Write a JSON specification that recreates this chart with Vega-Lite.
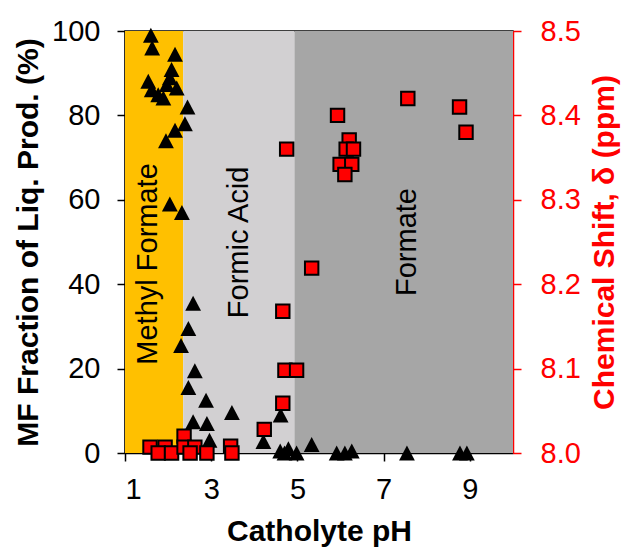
{
  "$schema": "https://vega.github.io/schema/vega-lite/v6.json",
  "width": 388,
  "height": 422,
  "autosize": "none",
  "padding": {"left": 125, "top": 31, "right": 113, "bottom": 94},
  "background": "white",
  "config": {
    "font": "Liberation Sans",
    "view": {"stroke": "black", "strokeWidth": 1.5},
    "axis": {
      "grid": false,
      "domainColor": "black",
      "domainWidth": 1.5,
      "tickColor": "black",
      "tickWidth": 1.5,
      "tickSize": 8,
      "labelColor": "black",
      "labelFont": "Liberation Sans",
      "labelFontSize": 29,
      "labelFontWeight": "normal",
      "titleFont": "Liberation Sans",
      "titleFontSize": 30,
      "titleFontWeight": "bold",
      "titleColor": "black"
    }
  },
  "datasets": {
    "regions": [
      {"start": 1, "end": 2.35, "region": "Methyl Formate"},
      {"start": 2.35, "end": 4.93, "region": "Formic Acid"},
      {"start": 4.93, "end": 10, "region": "Formate"}
    ],
    "mf": [
      {"pH": 1.60, "MF": 99},
      {"pH": 1.63, "MF": 96},
      {"pH": 2.16, "MF": 94.5},
      {"pH": 2.08, "MF": 90.9},
      {"pH": 2.04, "MF": 88.9},
      {"pH": 1.54, "MF": 88.1},
      {"pH": 1.97, "MF": 87.3},
      {"pH": 2.20, "MF": 86.5},
      {"pH": 1.62, "MF": 86.1},
      {"pH": 1.77, "MF": 84.9},
      {"pH": 1.89, "MF": 84.1},
      {"pH": 2.45, "MF": 82},
      {"pH": 2.39, "MF": 78},
      {"pH": 2.16, "MF": 76.5},
      {"pH": 1.95, "MF": 74},
      {"pH": 2.04, "MF": 59},
      {"pH": 2.32, "MF": 57},
      {"pH": 2.58, "MF": 35.5},
      {"pH": 2.47, "MF": 29.5},
      {"pH": 2.30, "MF": 25.5},
      {"pH": 2.62, "MF": 19.5},
      {"pH": 2.47, "MF": 15.5},
      {"pH": 2.88, "MF": 12.5},
      {"pH": 3.48, "MF": 9.6},
      {"pH": 2.58, "MF": 7.4},
      {"pH": 2.90, "MF": 7.0},
      {"pH": 2.96, "MF": 3.0},
      {"pH": 4.61, "MF": 9.0},
      {"pH": 4.21, "MF": 2.7},
      {"pH": 4.60, "MF": 0.5},
      {"pH": 4.79, "MF": 1.0},
      {"pH": 4.70, "MF": 0},
      {"pH": 4.98, "MF": 0},
      {"pH": 5.33, "MF": 2},
      {"pH": 5.91, "MF": 0},
      {"pH": 6.10, "MF": 0},
      {"pH": 6.26, "MF": 0.5},
      {"pH": 7.54, "MF": 0},
      {"pH": 8.77, "MF": 0},
      {"pH": 8.93, "MF": 0}
    ],
    "shift": [
      {"pH": 4.75, "delta": 8.36},
      {"pH": 5.93, "delta": 8.40},
      {"pH": 7.56, "delta": 8.42},
      {"pH": 8.76, "delta": 8.41},
      {"pH": 8.91, "delta": 8.38},
      {"pH": 6.20, "delta": 8.371},
      {"pH": 6.13, "delta": 8.36},
      {"pH": 6.30, "delta": 8.36},
      {"pH": 5.99, "delta": 8.342},
      {"pH": 6.26, "delta": 8.342},
      {"pH": 6.10, "delta": 8.33},
      {"pH": 5.33, "delta": 8.219},
      {"pH": 4.66, "delta": 8.168},
      {"pH": 4.71, "delta": 8.098},
      {"pH": 4.98, "delta": 8.098},
      {"pH": 4.66, "delta": 8.059},
      {"pH": 4.23, "delta": 8.028},
      {"pH": 1.58, "delta": 8.007},
      {"pH": 1.93, "delta": 8.007},
      {"pH": 1.77, "delta": 8.0},
      {"pH": 2.08, "delta": 8.0},
      {"pH": 2.37, "delta": 8.02},
      {"pH": 2.37, "delta": 8.007},
      {"pH": 2.62, "delta": 8.007},
      {"pH": 2.51, "delta": 8.0},
      {"pH": 2.90, "delta": 8.0},
      {"pH": 3.45, "delta": 8.008},
      {"pH": 3.48, "delta": 8.0}
    ]
  },
  "layer": [
    {
      "layer": [
        {
          "data": {"name": "regions"},
          "mark": {"type": "rect"},
          "encoding": {
            "x": {"field": "start", "type": "quantitative", "title": "Catholyte pH", "scale": {"domain": [1, 10], "nice": false, "zero": false}, "axis": {"values": [1, 3, 5, 7, 9], "labelPadding": 14, "titlePadding": 12}},
            "x2": {"field": "end"},
            "color": {"field": "region", "type": "nominal", "legend": null, "scale": {"domain": ["Methyl Formate", "Formic Acid", "Formate"], "range": ["#FFC000", "#D2D0D2", "#A6A6A6"]}}
          }
        },
        {
          "data": {"values": [{}]},
          "mark": {"type": "text", "angle": 270, "align": "center", "baseline": "alphabetic", "fontSize": 29, "font": "Liberation Sans", "color": "black"},
          "encoding": {"x": {"datum": 1.74, "type": "quantitative"}, "y": {"datum": 44.8, "type": "quantitative"}, "text": {"value": "Methyl Formate"}}
        },
        {
          "data": {"values": [{}]},
          "mark": {"type": "text", "angle": 270, "align": "center", "baseline": "alphabetic", "fontSize": 29, "font": "Liberation Sans", "color": "black"},
          "encoding": {"x": {"datum": 3.85, "type": "quantitative"}, "y": {"datum": 49.9, "type": "quantitative"}, "text": {"value": "Formic Acid"}}
        },
        {
          "data": {"values": [{}]},
          "mark": {"type": "text", "angle": 270, "align": "center", "baseline": "alphabetic", "fontSize": 29, "font": "Liberation Sans", "color": "black"},
          "encoding": {"x": {"datum": 7.75, "type": "quantitative"}, "y": {"datum": 50, "type": "quantitative"}, "text": {"value": "Formate"}}
        },
        {
          "data": {"name": "mf"},
          "mark": {"type": "point", "shape": "M0,-0.95L-1,0.95L1,0.95Z", "filled": true, "size": 250, "color": "black", "opacity": 1},
          "encoding": {
            "x": {"field": "pH", "type": "quantitative", "title": "Catholyte pH"},
            "y": {"field": "MF", "type": "quantitative", "title": "MF Fraction of Liq. Prod. (%)", "scale": {"domain": [0, 100], "nice": false}, "axis": {"values": [0, 20, 40, 60, 80, 100], "labelPadding": 17, "titlePadding": 8}}
          }
        }
      ]
    },
    {
      "data": {"name": "shift"},
      "mark": {"type": "point", "shape": "square", "filled": true, "size": 180, "color": "#FF0000", "stroke": "black", "strokeWidth": 2, "opacity": 1},
      "encoding": {
        "x": {"field": "pH", "type": "quantitative", "title": "Catholyte pH"},
        "y": {"field": "delta", "type": "quantitative", "title": "Chemical Shift, δ (ppm)", "scale": {"domain": [8.0, 8.5], "nice": false, "zero": false}, "axis": {"orient": "right", "values": [8.0, 8.1, 8.2, 8.3, 8.4, 8.5], "format": ".1f", "domainColor": "#FF0000", "tickColor": "#FF0000", "labelColor": "#FF0000", "titleColor": "#FF0000", "labelPadding": 19, "titlePadding": 9, "titleAngle": 270, "titleBaseline": "top"}}
      }
    }
  ],
  "resolve": {"scale": {"y": "independent"}}
}
